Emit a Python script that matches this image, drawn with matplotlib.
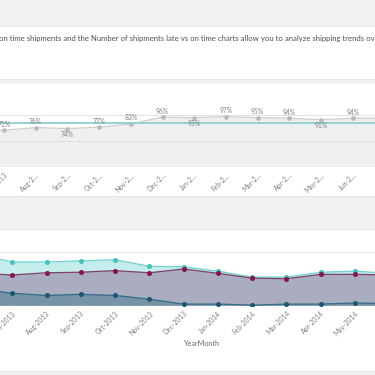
import matplotlib
matplotlib.use("Agg")
import matplotlib.pyplot as plt
from matplotlib.patches import Rectangle
import numpy as np

#############################
### DATA
#############################
months = ["Jun-2013", "Jul-2013", "Aug-2013", "Sep-2013", "Oct-2013", "Nov-2013", "Dec-2013",
          "Jan-2014", "Feb-2014", "Mar-2014", "Apr-2014", "May-2014", "Jun-2014", "Jul-2014"]
short_labels = ["Jun-2…", "Jul-2013", "Aug-2…", "Sep-2…", "Oct-2…", "Nov-2…", "Dec-2…",
                "Jan-2…", "Feb-2…", "Mar-2…", "Apr-2…", "May-2…", "Jun-2…", "Jul-2…"]

# percentage of shipments on time
pct_on_time = [70, 71, 76, 74, 77, 83, 96, 95, 97, 95, 94, 91, 94, 94]
pct_labels_below = [False, False, False, True, False, False, False, True, False, False, False, True, False, False]
pct_target = 85

# number of shipments (total / on time / late)
total_ship = [95, 81, 81, 83, 85, 73, 72, 64, 53, 53, 62, 64, 60, 60]
ontime_ship = [60, 57, 61, 62, 65, 61, 68, 60, 51, 50, 58, 58, 57, 57]
late_ship = [31, 23, 19, 21, 19, 12, 3, 3, 1, 3, 3, 5, 4, 4]

intro = ("on time shipments and the Number of shipments late vs on time charts allow you "
         "to analyze shipping trends over time.")

#############################
### SETTINGS
#############################
W = H = 375.0
fontName = "Lato"
plt.rcParams['font.family'] = [fontName, 'DejaVu Sans']

def box(top, bottom, left=0, right=W):
    return [left / W, 1 - bottom / H, (right - left) / W, (bottom - top) / H]

fig = plt.figure(figsize=(3.75, 3.75), dpi=100)
fig.patch.set_facecolor("white")

# --- gray bands between the dashboard panels
for top, bottom in [(0, 26), (79, 84), (196, 229), (370.5, 375)]:
    x0, y0, w, h = box(top, bottom)
    fig.patches.append(Rectangle((x0, y0), w, h, transform=fig.transFigure,
                                 facecolor="#f1f1f1", edgecolor="none", zorder=0))
for yy in [26, 79, 196, 229, 370.5]:
    fig.add_artist(plt.Line2D([0, 1], [1 - yy / H] * 2, color="#e4e4e4", lw=0.6))

fig.text(-0.003, 1 - 38.5 / H, intro, fontsize=5.55, color="#505050", va="center", ha="left")

x = np.arange(len(months)) - 1   # Jul-2013 sits at 0

#############################
### CHART 1 : % on time
#############################
ax1 = fig.add_axes(box(115, 167.3))
xs1 = 31.7
ax1.fill_between(x, pct_on_time, 0, color="#efefef", lw=0, zorder=1)
ax1.axhline(50, color="#dddddd", lw=0.7, zorder=2)
ax1.axhline(100, color="#e2e2e2", lw=0.7, zorder=2)
ax1.axhline(0, color="#d2d2d2", lw=0.8, zorder=2)
ax1.plot(x, pct_on_time, color="#cfcfcf", lw=0.9, marker="o", markersize=2.3,
         markerfacecolor="#b9b9b9", markeredgecolor="#b9b9b9", zorder=3)
ax1.axhline(pct_target, color="#95d2d1", lw=1.4, zorder=4)
for xi, v, below in zip(x, pct_on_time, pct_labels_below):
    ax1.annotate("%d%%" % v, (xi, v), xytext=(0, -4.3 if below else 4.3),
                 textcoords="offset points", ha="center", va="center",
                 fontsize=4.9, color="#808080", zorder=5)
ax1.set_xticks(x)
ax1.set_xticklabels(short_labels, rotation=45, ha="right", rotation_mode="anchor",
                    fontsize=4.9, color="#808080")
ax1.tick_params(axis="x", length=0, pad=3)
ax1.set_yticks([])
ax1.set_xlim(-4 / xs1, (W - 4) / xs1)
ax1.set_ylim(0, 100)
for s in ax1.spines.values():
    s.set_visible(False)

#############################
### CHART 2 : number of shipments
#############################
ax2 = fig.add_axes(box(251.7, 305.7))
xs2 = 34.27
ax2.axhline(100, color="#ececec", lw=0.8, zorder=0)

ax2.fill_between(x, total_ship, 0, color="#c4edeb", lw=0, zorder=1)
ax2.fill_between(x, ontime_ship, 0, color="#a9adbf", lw=0, zorder=2)
ax2.fill_between(x, late_ship, 0, color="#7793a8", lw=0, zorder=3)
ax2.plot(x, total_ship, color="#72d3cf", lw=0.9, marker="o", markersize=2.6,
         markerfacecolor="#45c2bf", markeredgecolor="#45c2bf", zorder=4)
ax2.plot(x, ontime_ship, color="#7c4366", lw=0.9, marker="o", markersize=2.6,
         markerfacecolor="#8a1450", markeredgecolor="#8a1450", zorder=5)
ax2.plot(x, late_ship, color="#336b88", lw=0.9, marker="o", markersize=2.6,
         markerfacecolor="#1c5677", markeredgecolor="#1c5677", zorder=6)

ax2.set_xticks(x)
ax2.set_xticklabels(months, rotation=45, ha="right", rotation_mode="anchor",
                    fontsize=4.9, color="#808080")
ax2.tick_params(axis="x", length=0, pad=3)
ax2.set_yticks([])
ax2.set_xlim(-12.3 / xs2, (W - 12.3) / xs2)
ax2.set_ylim(0, 100)
for s in ax2.spines.values():
    s.set_visible(False)
fig.text(201 / W, 1 - 343.5 / H, "YearMonth", fontsize=5.2, color="#6a6a6a",
         ha="center", va="center")

plt.savefig("out.png", dpi=100)
